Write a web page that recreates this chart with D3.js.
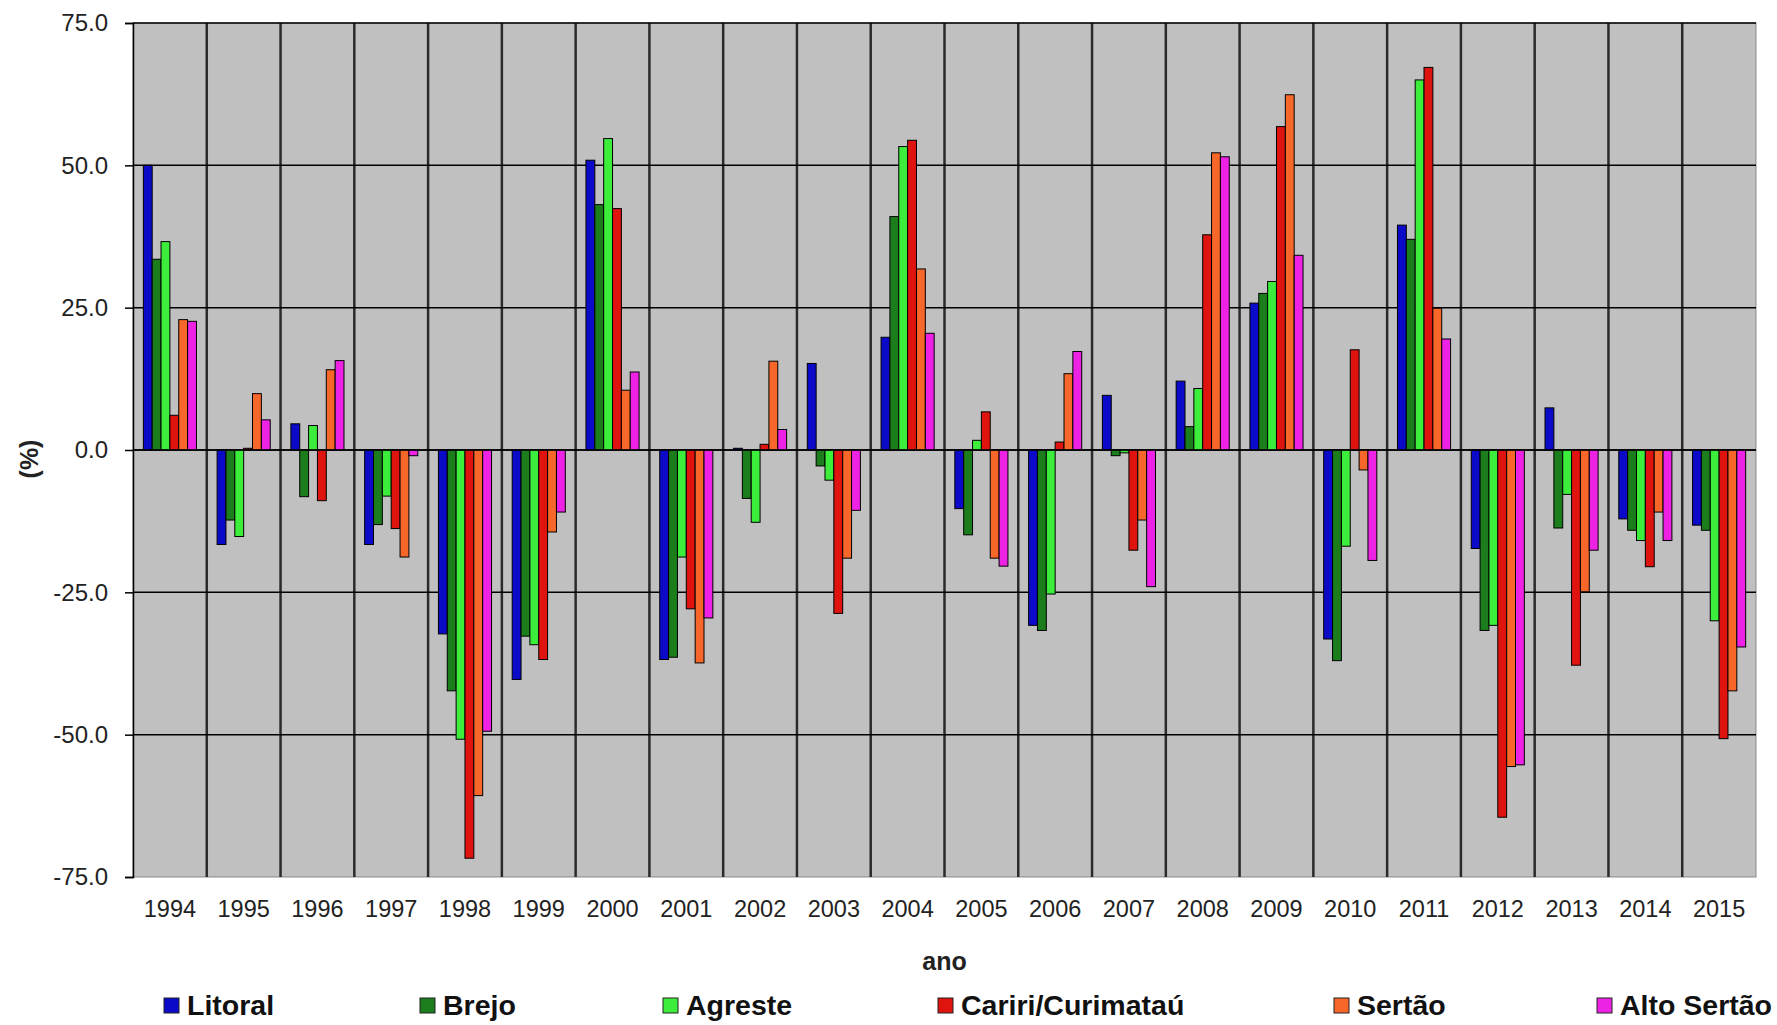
<!DOCTYPE html>
<html>

<head>
    <meta charset="UTF-8">
    <title>Variação (%) por região - 1994 a 2015</title>
    <script src="https://d3js.org/d3.v7.min.js"></script>
    <style>
        body { margin: 0; background: #fff; }
        text { font-family: "Liberation Sans", Arial, sans-serif; }
    </style>
</head>

<body>
    <div class="canvas"></div>

    <script>
        // data
        const years = ["1994", "1995", "1996", "1997", "1998", "1999", "2000", "2001", "2002", "2003", "2004",
            "2005", "2006", "2007", "2008", "2009", "2010", "2011", "2012", "2013", "2014", "2015"];
        const regions = ["Litoral", "Brejo", "Agreste", "Cariri/Curimataú", "Sertão", "Alto Sertão"];
        const litoral = [50.0, -16.6, 4.6, -16.6, -32.3, -40.3, 50.9, -36.8, 0.3, 15.2, 19.8, -10.3, -30.8, 9.6, 12.1, 25.8, -33.2, 39.5, -17.3, 7.4, -12.1, -13.2];
        const brejo = [33.5, -12.3, -8.2, -13.1, -42.3, -32.7, 43.1, -36.4, -8.5, -2.8, 41.0, -14.9, -31.7, -1.0, 4.1, 27.5, -37.0, 37.0, -31.7, -13.7, -14.1, -14.1];
        const agreste = [36.6, -15.2, 4.3, -8.1, -50.8, -34.2, 54.7, -18.8, -12.7, -5.3, 53.3, 1.7, -25.3, -0.5, 10.8, 29.6, -16.9, 65.0, -30.8, -7.8, -15.9, -30.0];
        const cariri = [6.1, 0.3, -8.9, -13.8, -71.7, -36.8, 42.4, -27.9, 1.0, -28.7, 54.4, 6.7, 1.4, -17.6, 37.8, 56.8, 17.6, 67.2, -64.5, -37.8, -20.5, -50.7];
        const sertao = [22.9, 9.9, 14.1, -18.8, -60.7, -14.4, 10.5, -37.4, 15.6, -19.0, 31.8, -19.0, 13.4, -12.3, 52.2, 62.4, -3.5, 24.9, -55.6, -24.9, -10.9, -42.3];
        const altoSertao = [22.6, 5.3, 15.7, -1.0, -49.4, -10.9, 13.7, -29.5, 3.6, -10.6, 20.5, -20.4, 17.3, -24.0, 51.5, 34.2, -19.4, 19.5, -55.3, -17.6, -15.9, -34.6];
        const yTicks = [-75, -50, -25, 0, 25, 50, 75];

        const seriesValues = [litoral, brejo, agreste, cariri, sertao, altoSertao];
        const colors = ["#0a0ac8", "#1b7d1b", "#3ced3c", "#e0140f", "#f7672a", "#ee22e4"];

        // dimensions
        const width = 1777;
        const height = 1025;
        const plot = { left: 133, right: 1756, top: 23, bottom: 877 };

        const svg = d3.select(".canvas")
            .append("svg")
            .attr("width", width)
            .attr("height", height);

        // scales
        const x = d3.scaleBand()
            .domain(years)
            .range([plot.left, plot.right])
            .paddingInner(0.28)
            .paddingOuter(0.14);

        const x1 = d3.scaleBand()
            .domain(regions)
            .range([0, x.bandwidth()]);

        const y = d3.scaleLinear()
            .domain([-75, 75])
            .range([plot.bottom, plot.top]);

        const color = d3.scaleOrdinal(regions, colors);

        // plot background
        svg.append("rect")
            .attr("x", plot.left)
            .attr("y", plot.top)
            .attr("width", plot.right - plot.left)
            .attr("height", plot.bottom - plot.top)
            .attr("fill", "#c0c0c0")
            .attr("stroke", "#8a8a8a")
            .attr("stroke-width", 1);

        // vertical separators between years
        const half = x.step() * x.paddingInner() / 2;
        svg.append("g")
            .selectAll("line")
            .data(years.slice(1))
            .enter()
            .append("line")
            .attr("x1", d => x(d) - half)
            .attr("x2", d => x(d) - half)
            .attr("y1", plot.top)
            .attr("y2", plot.bottom)
            .attr("stroke", "#2a2a2a")
            .attr("stroke-width", 2.5);

        // horizontal gridlines
        svg.append("g")
            .selectAll("line")
            .data(yTicks.filter(d => d !== -75))
            .enter()
            .append("line")
            .attr("x1", plot.left)
            .attr("x2", plot.right)
            .attr("y1", d => y(d))
            .attr("y2", d => y(d))
            .attr("stroke", "#000")
            .attr("stroke-width", 1.5);

        // bars
        const groups = svg.append("g")
            .selectAll("g")
            .data(years)
            .enter()
            .append("g")
            .attr("transform", d => `translate(${x(d)}, 0)`);

        groups.selectAll("rect")
            .data((d, i) => regions.map((r, j) => ({ region: r, value: seriesValues[j][i] })))
            .enter()
            .append("rect")
            .attr("x", d => x1(d.region))
            .attr("width", x1.bandwidth())
            .attr("y", d => y(Math.max(0, d.value)))
            .attr("height", d => Math.abs(y(d.value) - y(0)))
            .attr("fill", d => color(d.region))
            .attr("stroke", "#000")
            .attr("stroke-width", 1);

        // zero line on top of bars
        svg.append("line")
            .attr("x1", plot.left)
            .attr("x2", plot.right)
            .attr("y1", y(0))
            .attr("y2", y(0))
            .attr("stroke", "#000")
            .attr("stroke-width", 1.5);

        // y axis
        const yAxis = d3.axisLeft(y)
            .tickValues(yTicks)
            .tickSize(8)
            .tickPadding(17)
            .tickFormat(d => d.toFixed(1));

        const yAxisGroup = svg.append("g")
            .attr("transform", `translate(${plot.left}, 0)`)
            .call(yAxis);

        yAxisGroup.select(".domain").attr("stroke", "#000").attr("stroke-width", 1.5);
        yAxisGroup.selectAll(".tick line").attr("stroke", "#000").attr("stroke-width", 1.5);
        yAxisGroup.selectAll("text")
            .attr("font-size", 24)
            .attr("fill", "#222")
            .style("font-family", "Liberation Sans, Arial, sans-serif");

        // x axis (labels only)
        const xAxis = d3.axisBottom(x)
            .tickSize(0)
            .tickPadding(23);

        const xAxisGroup = svg.append("g")
            .attr("transform", `translate(0, ${plot.bottom})`)
            .call(xAxis);

        xAxisGroup.select(".domain").remove();
        xAxisGroup.selectAll("text")
            .attr("font-size", 23.5)
            .attr("fill", "#222")
            .style("font-family", "Liberation Sans, Arial, sans-serif");

        // axis titles
        svg.append("text")
            .attr("x", (plot.left + plot.right) / 2)
            .attr("y", 970)
            .attr("text-anchor", "middle")
            .attr("font-size", 25)
            .attr("font-weight", "bold")
            .attr("fill", "#222")
            .text("ano");

        svg.append("text")
            .attr("transform", "translate(38, 459) rotate(-90)")
            .attr("text-anchor", "middle")
            .attr("font-size", 25)
            .attr("font-weight", "bold")
            .attr("fill", "#222")
            .text("(%)");

        // legend
        const legendX = [164, 420, 663, 938, 1334, 1597];
        const legend = svg.append("g")
            .selectAll("g")
            .data(regions)
            .enter()
            .append("g")
            .attr("transform", (d, i) => `translate(${legendX[i]}, 998)`);

        legend.append("rect")
            .attr("width", 15)
            .attr("height", 15)
            .attr("fill", d => color(d))
            .attr("stroke", "#222")
            .attr("stroke-width", 1);

        legend.append("text")
            .attr("x", 23)
            .attr("y", 17)
            .attr("font-size", 28.5)
            .attr("font-weight", "bold")
            .attr("fill", "#111")
            .text(d => d);
    </script>
</body>

</html>
